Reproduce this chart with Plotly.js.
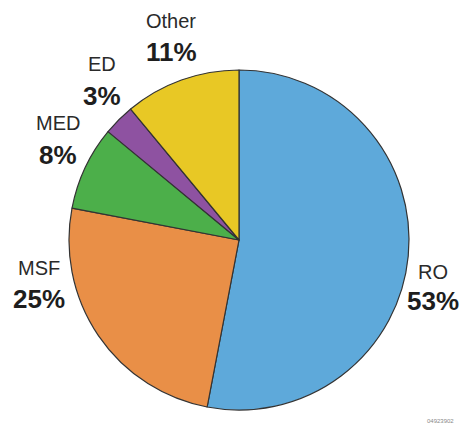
<!DOCTYPE html>
<html>
<head>
<meta charset="utf-8">
<script src="https://cdn.plot.ly/plotly-3.0.1.min.js"></script>
<style>html,body{margin:0;padding:0;background:#fff;}#chart{width:465px;height:427px;}</style>
</head>
<body>
<div id="chart"></div>
<script>
const labels = ["RO", "MSF", "MED", "ED", "Other"];
const values = [53, 25, 8, 3, 11];
const colors = ["#5ea9da", "#e98f47", "#4caf4a", "#8e52a1", "#e8c825"];
const figureId = "04923902";

// label anchor positions in pixels (layout only)
const labelPos = {
  "RO":    {x: 433, y: 272, py: 301},
  "MSF":   {x: 39,  y: 268, py: 299},
  "MED":   {x: 58,  y: 123, py: 155},
  "ED":    {x: 102, y: 64,  py: 96},
  "Other": {x: 171, y: 21,  py: 52}
};

const W = 465, H = 427;
const cx = 239, cy = 240, r = 170;

const annotations = [];
labels.forEach((lab, i) => {
  const p = labelPos[lab];
  annotations.push({
    x: p.x / W, y: 1 - p.y / H, xref: "paper", yref: "paper",
    text: lab, showarrow: false, xanchor: "center", yanchor: "middle",
    font: {family: "Liberation Sans, Arial, sans-serif", size: 20, color: "#2a2a2a"}
  });
  annotations.push({
    x: p.x / W, y: 1 - p.py / H, xref: "paper", yref: "paper",
    text: "<b>" + values[i] + "%</b>", showarrow: false, xanchor: "center", yanchor: "middle",
    font: {family: "Liberation Sans, Arial, sans-serif", size: 26, color: "#1e1e1e"}
  });
});
annotations.push({
  x: 440 / W, y: 1 - 421 / H, xref: "paper", yref: "paper",
  text: figureId, showarrow: false, xanchor: "center", yanchor: "middle",
  font: {family: "Liberation Sans, Arial, sans-serif", size: 6, color: "#888"}
});

const data = [{
  type: "pie",
  labels: labels,
  values: values,
  sort: false,
  direction: "clockwise",
  rotation: 0,
  textinfo: "none",
  hoverinfo: "none",
  marker: {colors: colors, line: {color: "#333", width: 1.2}},
  domain: {x: [(cx - r) / W, (cx + r) / W], y: [(H - cy - r) / H, (H - cy + r) / H]},
  showlegend: false
}];

const layout = {
  width: W, height: H,
  margin: {l: 0, r: 0, t: 0, b: 0},
  paper_bgcolor: "#fff",
  plot_bgcolor: "#fff",
  showlegend: false,
  annotations: annotations
};

Plotly.newPlot("chart", data, layout, {displayModeBar: false, staticPlot: true});
</script>
</body>
</html>
